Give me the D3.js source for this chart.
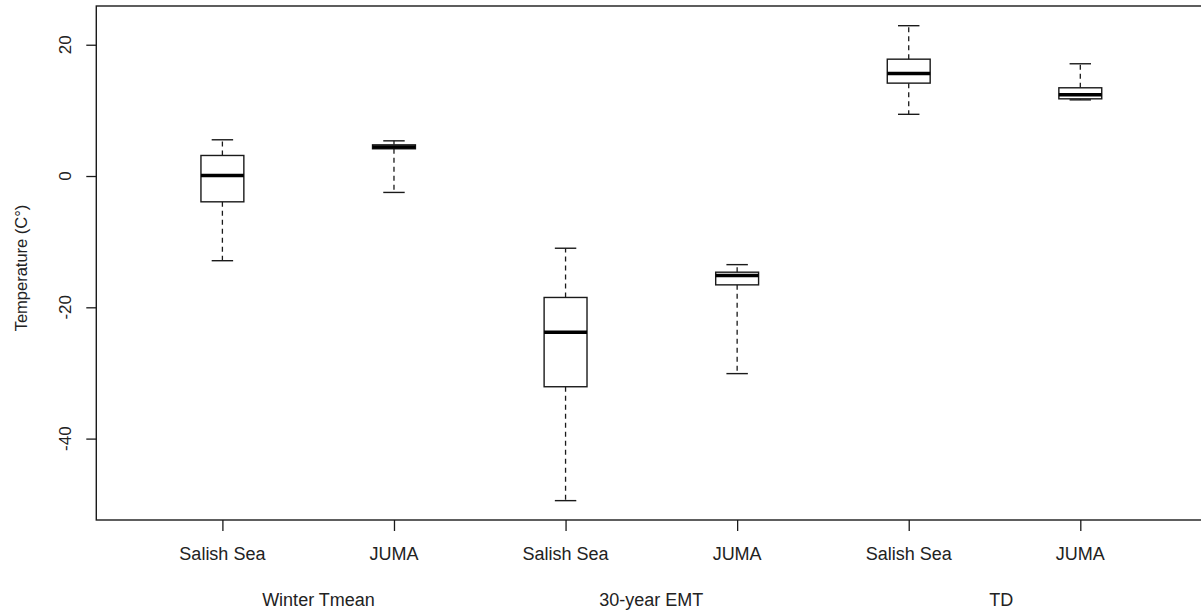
<!DOCTYPE html>
<html>
<head>
<meta charset="utf-8">
<script src="https://cdn.jsdelivr.net/npm/d3@7"></script>
<style>
  html, body { margin: 0; padding: 0; background: #fff; }
  svg { display: block; }
  text { font-family: "Liberation Sans", Arial, sans-serif; fill: #222; }
</style>
</head>
<body>
<svg id="chart" width="1201" height="612"></svg>
<script>
// ---- data ----
const groups = ["Winter Tmean", "30-year EMT", "TD"];
const groupLabelPos = [1.56, 3.5, 5.54];
const sites = ["Salish Sea", "JUMA", "Salish Sea", "JUMA", "Salish Sea", "JUMA"];
const whiskerLow  = [-12.9, -2.5, -49.45, -30.1, 9.4, 11.6];
const q1          = [-3.93, 4.15, -32.1, -16.58, 14.15, 11.76];
const median      = [0.08, 4.42, -23.8, -15.16, 15.6, 12.37];
const q3          = [3.13, 4.75, -18.5, -14.65, 17.8, 13.44];
const whiskerHigh = [5.52, 5.36, -11.0, -13.5, 22.9, 17.1];
const yTicks = [-40, -20, 0, 20];
const yTitle = "Temperature (C°)";

const boxes = sites.map((s, i) => ({
  pos: i + 1, site: s,
  lo: whiskerLow[i], q1: q1[i], med: median[i], q3: q3[i], hi: whiskerHigh[i]
}));

const svg = d3.select("#chart");
const x = d3.scaleLinear().domain([1, 6]).range([222.4, 1080.3]);
const y = d3.scaleLinear().domain([-52.4, 25.9]).range([520, 6]);
const xMin = 0.265, xMax = 6.74;
const boxW = 0.25;
const ink = "#1a1a1a";

// frame
svg.append("rect")
  .attr("x", x(xMin)).attr("y", y(25.9))
  .attr("width", x(xMax) - x(xMin)).attr("height", y(-52.4) - y(25.9))
  .attr("fill", "none").attr("stroke", ink).attr("stroke-width", 1.4);

// y axis
const yAxis = d3.axisLeft(y).tickValues(yTicks).tickSize(10).tickFormat("");
const gy = svg.append("g").attr("transform", `translate(${x(xMin)},0)`).call(yAxis);
gy.select(".domain").remove();
gy.selectAll("line").attr("stroke", ink).attr("stroke-width", 1.3);
svg.selectAll(".ytl").data(yTicks).enter().append("text")
  .attr("class", "ytl")
  .attr("transform", d => `translate(71,${y(d)}) rotate(-90)`)
  .attr("text-anchor", "middle")
  .attr("font-size", 17)
  .text(d => d);

svg.append("text")
  .attr("transform", `translate(27,268) rotate(-90)`)
  .attr("text-anchor", "middle")
  .attr("font-size", 16.5)
  .text(yTitle);

// x axis
const xAxis = d3.axisBottom(x).tickValues(boxes.map(b => b.pos)).tickSize(11).tickFormat("");
const gx = svg.append("g").attr("transform", `translate(0,${y(-52.4)})`).call(xAxis);
gx.select(".domain").remove();
gx.selectAll("line").attr("stroke", ink).attr("stroke-width", 1.3);

svg.selectAll(".xtl").data(boxes).enter().append("text")
  .attr("class", "xtl")
  .attr("x", d => x(d.pos)).attr("y", 560)
  .attr("text-anchor", "middle").attr("font-size", 18)
  .text(d => d.site);

svg.selectAll(".grp").data(groups).enter().append("text")
  .attr("class", "grp")
  .attr("x", (d, i) => x(groupLabelPos[i])).attr("y", 605.5)
  .attr("text-anchor", "middle").attr("font-size", 18)
  .text(d => d);

// boxes
const g = svg.selectAll(".box").data(boxes).enter().append("g").attr("class", "box");
const half = boxW / 2;

// whiskers (dashed)
g.append("line")
  .attr("x1", d => x(d.pos)).attr("x2", d => x(d.pos))
  .attr("y1", d => y(d.q3)).attr("y2", d => y(d.hi))
  .attr("stroke", ink).attr("stroke-width", 1.3).attr("stroke-dasharray", "5,4");
g.append("line")
  .attr("x1", d => x(d.pos)).attr("x2", d => x(d.pos))
  .attr("y1", d => y(d.q1)).attr("y2", d => y(d.lo))
  .attr("stroke", ink).attr("stroke-width", 1.3).attr("stroke-dasharray", "5,4");
// staples
["hi", "lo"].forEach(k => {
  g.append("line")
    .attr("x1", d => x(d.pos - half / 2)).attr("x2", d => x(d.pos + half / 2))
    .attr("y1", d => y(d[k])).attr("y2", d => y(d[k]))
    .attr("stroke", ink).attr("stroke-width", 1.4);
});
// box
g.append("rect")
  .attr("x", d => x(d.pos - half)).attr("width", d => x(d.pos + half) - x(d.pos - half))
  .attr("y", d => y(d.q3)).attr("height", d => y(d.q1) - y(d.q3))
  .attr("fill", "#fff").attr("stroke", ink).attr("stroke-width", 1.4);
// median
g.append("line")
  .attr("x1", d => x(d.pos - half)).attr("x2", d => x(d.pos + half))
  .attr("y1", d => y(d.med)).attr("y2", d => y(d.med))
  .attr("stroke", "#000").attr("stroke-width", 3.5);
</script>
</body>
</html>
